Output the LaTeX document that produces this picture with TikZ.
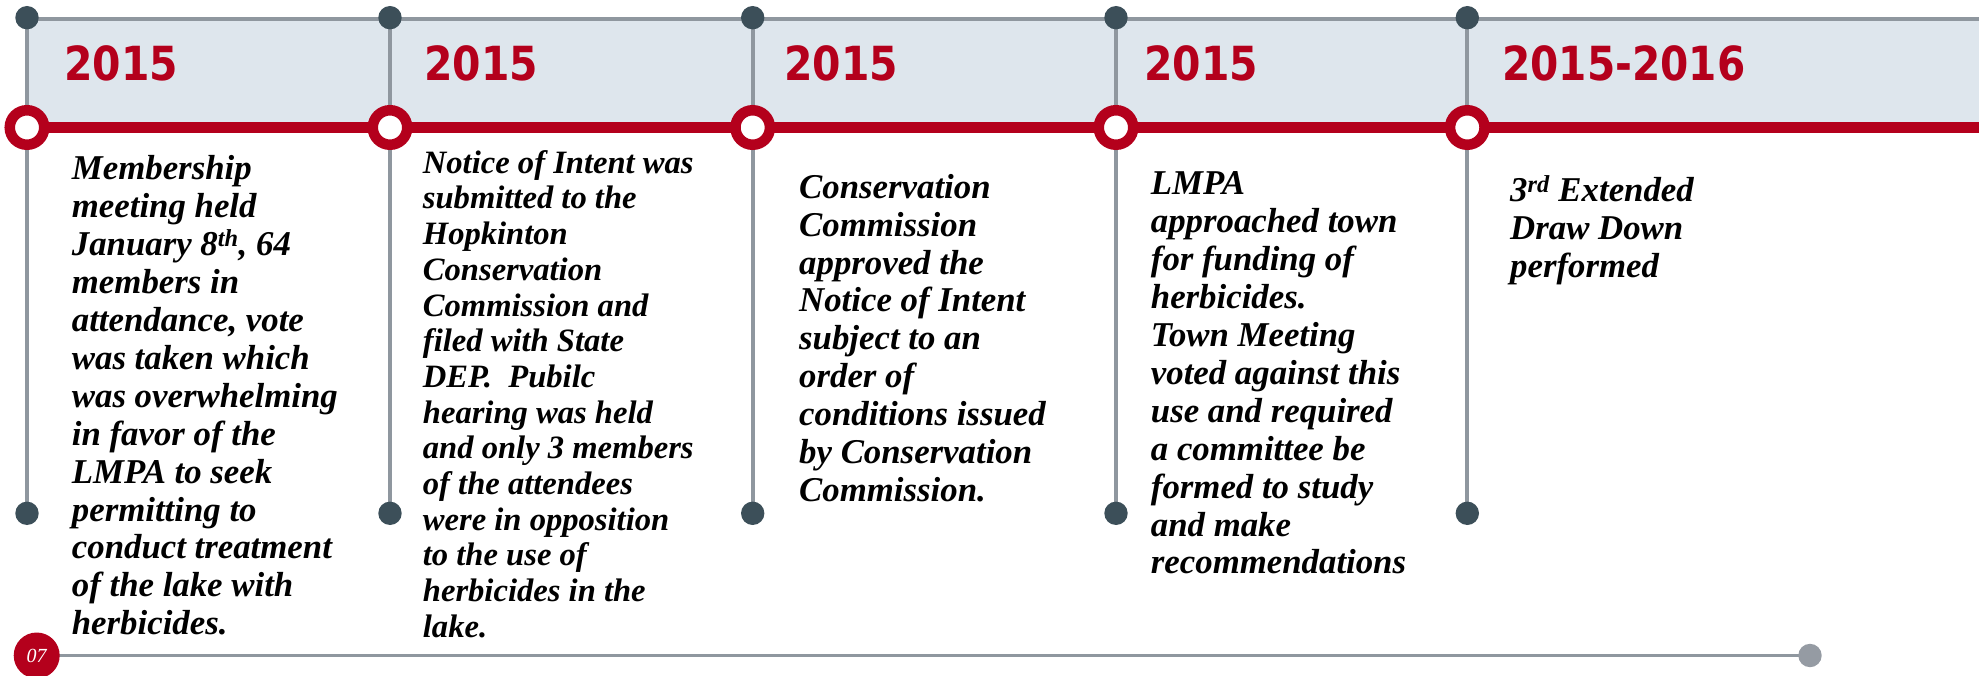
\documentclass[tikz,border=0pt]{standalone}
\usepackage{fontspec}
\usepackage{graphicx}
\setmainfont{Liberation Serif}
\newfontfamily\yearfont{DejaVu Sans}
\definecolor{lmred}{RGB}{180,0,28}
\definecolor{bandfill}{RGB}{222,230,237}
\definecolor{dotdark}{RGB}{60,79,89}
\definecolor{linegray}{RGB}{143,151,159}
\definecolor{enddot}{RGB}{149,155,163}
\newcommand\yr[2]{\scalebox{#1}[1]{#2}}
\begin{document}
\begin{tikzpicture}[x=1pt,y=-1pt,
  ring/.style={circle, draw=lmred, line width=10.5pt, fill=white, minimum size=34.5pt, inner sep=0pt},
  topdot/.style={circle, fill=dotdark, minimum size=23.4pt, inner sep=0pt},
  vline/.style={draw=linegray, line width=4pt},
  yeartext/.style={anchor=base west, inner sep=0pt, text=lmred, font=\yearfont\bfseries\fontsize{47}{47}\selectfont},
  desc/.style={anchor=base west, inner sep=0pt}]
\useasboundingbox (0,0) rectangle (1979,676);
% column coordinates
\coordinate (t1) at (27,17.7);   \coordinate (b1) at (27,513.3);
\coordinate (t2) at (390,17.7);  \coordinate (b2) at (390,513.3);
\coordinate (t3) at (752.7,17.7);\coordinate (b3) at (752.7,513.3);
\coordinate (t4) at (1116,17.7); \coordinate (b4) at (1116,513.3);
\coordinate (t5) at (1467.3,17.7); \coordinate (b5) at (1467.3,513.3);
\coordinate (c1) at (27,127.5);
\coordinate (c2) at (390,127.5);
\coordinate (c3) at (752.7,127.5);
\coordinate (c4) at (1116,127.5);
\coordinate (c5) at (1467.3,127.5);
\coordinate (topend) at (1979,19);
\coordinate (redend) at (1979,127.5);
% band
\fill[bandfill] (27,19) rectangle (1979,127.5);
\draw[draw=linegray, line width=3.3pt] (27,19) -- (topend);
% vertical lines
\foreach \i in {1,...,5} { \draw[vline] (t\i) -- (b\i); }
% red line
\draw[draw=lmred, line width=11.6pt] (c1) -- (redend);
% rings and dots
\foreach \i in {1,...,5} {
  \node[ring] (r\i) at (c\i) {};
  \node[topdot] (td\i) at (t\i) {};
  \node[topdot] (bd\i) at (b\i) {};
}
% years
\node[yeartext] (y1) at (64,81) {\yr{0.87}{2015}};
\node[yeartext] (y2) at (424,81) {\yr{0.87}{2015}};
\node[yeartext] (y3) at (784,81) {\yr{0.87}{2015}};
\node[yeartext] (y4) at (1144,81) {\yr{0.87}{2015}};
\node[yeartext] (y5) at (1502,81) {\yr{0.865}{2015-2016}};
% descriptions
\node[desc] (d1) at (71.7,180) {\parbox[t]{320pt}{\raggedright\fontsize{34.8}{37.9}\selectfont\bfseries\itshape
Membership\\ meeting held\\ January 8\textsuperscript{th}, 64\\ members in\\ attendance, vote\\ was taken which\\ was overwhelming\\ in favor of the\\ LMPA to seek\\ permitting to\\ conduct treatment\\ of the lake with\\ herbicides.}};
\node[desc] (d2) at (422.7,173.3) {\parbox[t]{320pt}{\raggedright\fontsize{32.6}{35.7}\selectfont\bfseries\itshape
Notice of Intent was\\ submitted to the\\ Hopkinton\\ Conservation\\ Commission and\\ filed with State\\ DEP.\ \ Pubilc\\ hearing was held\\ and only 3 members\\ of the attendees\\ were in opposition\\ to the use of\\ herbicides in the\\ lake.}};
\node[desc] (d3) at (799,198.3) {\parbox[t]{320pt}{\raggedright\fontsize{34.8}{37.9}\selectfont\bfseries\itshape
Conservation\\ Commission\\ approved the\\ Notice of Intent\\ subject to an\\ order of\\ conditions issued\\ by Conservation\\ Commission.}};
\node[desc] (d4) at (1150.7,195) {\parbox[t]{320pt}{\raggedright\fontsize{34.8}{37.9}\selectfont\bfseries\itshape
LMPA\\ approached town\\ for funding of\\ herbicides.\\ Town Meeting\\ voted against this\\ use and required\\ a committee be\\ formed to study\\ and make\\ recommendations}};
\node[desc] (d5) at (1510,201.7) {\parbox[t]{320pt}{\raggedright\fontsize{34.8}{37.8}\selectfont\bfseries\itshape
3\textsuperscript{rd} Extended\\ Draw Down\\ performed}};
% bottom bar
\coordinate (pg) at (36.7,655.5);
\coordinate (pe) at (1810,655.5);
\draw[draw=linegray, line width=2.4pt] (pg) -- (pe);
\node[circle, fill=lmred, minimum size=46pt, inner sep=0pt, text=white, font=\itshape\fontsize{20}{20}\selectfont] (pn) at (pg) {07};
\node[circle, fill=enddot, minimum size=23.4pt, inner sep=0pt] (pd) at (pe) {};
\end{tikzpicture}
\end{document}
